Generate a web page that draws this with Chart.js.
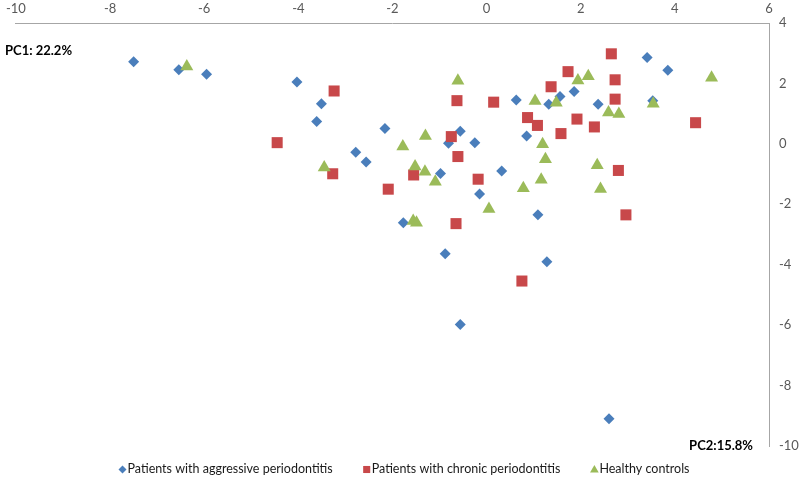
<!DOCTYPE html>
<html>
<head>
<meta charset="utf-8">
<script src="https://cdn.jsdelivr.net/npm/chart.js@4.4.1/dist/chart.umd.min.js"></script>
<style>
  html, body { margin: 0; padding: 0; background: #fff; }
  #wrap { width: 800px; height: 490px; position: relative; }
</style>
</head>
<body>
<div id="wrap"><canvas id="c" width="800" height="490"></canvas></div>
<script>
// Series labels
const seriesNames = ["Patients with aggressive periodontitis", "Patients with chronic periodontitis", "Healthy controls"];
const pc1Label = "PC1: 22.2%";
const pc2Label = "PC2:15.8%";

// Patients with aggressive periodontitis
const aggX = [-7.50,-6.54,-5.95,-4.03,-3.51,-3.61,-2.16,-2.78,-2.56,-0.56,-0.81,-0.25,0.85,-0.98,0.32,-0.15,1.09,-1.77,-0.88,1.28,-0.56,2.60,3.41,3.85,1.86,1.56,0.63,1.32,2.37,3.53];
const aggY = [2.72,2.45,2.30,2.05,1.33,0.74,0.51,-0.28,-0.60,0.42,0.02,0.04,0.26,-0.98,-0.90,-1.66,-2.35,-2.61,-3.64,-3.90,-5.98,-9.10,2.86,2.44,1.73,1.57,1.45,1.31,1.31,1.43];

// Patients with chronic periodontitis
const chrX = [-3.24,-4.45,-3.27,-2.09,2.65,1.73,2.73,1.37,-0.63,0.15,2.73,0.87,1.08,1.92,2.29,1.58,4.44,-0.75,-0.61,2.80,-0.18,-1.55,-0.65,0.75,2.96];
const chrY = [1.75,0.04,-0.99,-1.50,2.98,2.39,2.12,1.89,1.43,1.38,1.48,0.87,0.61,0.82,0.56,0.34,0.70,0.24,-0.42,-0.88,-1.17,-1.03,-2.64,-4.54,-2.35];

// Healthy controls
const hcX = [-6.37,-3.45,-1.78,-0.61,2.16,1.94,4.78,1.03,1.48,3.54,2.59,2.81,-1.30,1.19,1.25,-1.52,-1.31,-1.09,2.35,1.16,0.78,2.42,0.05,-1.56,-1.49];
const hcY = [2.56,-0.78,-0.09,2.09,2.24,2.10,2.19,1.42,1.36,1.33,1.04,0.99,0.26,-0.01,-0.51,-0.75,-0.92,-1.25,-0.71,-1.19,-1.47,-1.49,-2.16,-2.55,-2.61];

// Axis ranges
const xMin = -10, xMax = 6, xStep = 2;
const yMin = -10, yMax = 4, yStep = 2;

const toPts = (xs, ys) => xs.map((x, i) => ({ x: x, y: ys[i] }));

const labelFont = "'Lato', 'Open Sans', sans-serif";

// PC annotations + bottom legend drawn on the canvas
const extras = {
  id: 'extras',
  afterDraw(chart) {
    const ctx = chart.ctx;
    const ys = chart.scales.y;
    const ca = chart.chartArea;
    ctx.save();
    ctx.fillStyle = '#000';
    ctx.font = "bold 13px " + labelFont;
    ctx.textBaseline = 'middle';
    ctx.textAlign = 'left';
    ctx.fillText(pc1Label, 5, 51);
    ctx.textAlign = 'right';
    ctx.fillText(pc2Label, ca.right - 16, ys.getPixelForValue(yMin));

    // legend
    ctx.font = "12.5px " + labelFont;
    const ds = chart.data.datasets;
    const markGap = 9, itemGap = 30;
    const widths = ds.map(d => ctx.measureText(d.label).width);
    const total = widths.reduce((a, b) => a + b, 0) + ds.length * markGap + (ds.length - 1) * itemGap;
    let x = 404 - total / 2;
    const y = 469;
    const legendRadius = { rectRot: 4, rect: 5, triangle: 5 };
    ds.forEach((d, i) => {
      ctx.fillStyle = d.backgroundColor;
      ctx.strokeStyle = d.backgroundColor;
      Chart.helpers.drawPoint(ctx, { pointStyle: d.pointStyle, radius: legendRadius[d.pointStyle], rotation: 0, borderWidth: 0 }, x + 4, y + (d.pointStyle === 'triangle' ? 1 : 0.5));
      ctx.fillStyle = '#1a1a1a';
      ctx.textAlign = 'left';
      ctx.fillText(d.label, x + markGap, y);
      x += markGap + widths[i] + itemGap;
    });
    ctx.restore();
  }
};

new Chart(document.getElementById('c'), {
  type: 'scatter',
  data: {
    datasets: [
      { label: seriesNames[0], data: toPts(aggX, aggY), pointStyle: 'rectRot', pointRadius: 5.5, pointHoverRadius: 5.5,
        backgroundColor: '#4A7EBB', borderColor: '#4A7EBB', borderWidth: 0, order: 3 },
      { label: seriesNames[1], data: toPts(chrX, chrY), pointStyle: 'rect', pointRadius: 7.8, pointHoverRadius: 7.8,
        backgroundColor: '#C8484A', borderColor: '#C8484A', borderWidth: 0, order: 2 },
      { label: seriesNames[2], data: toPts(hcX, hcY), pointStyle: 'triangle', pointRadius: 7.5, pointHoverRadius: 7.5,
        backgroundColor: '#9BBB59', borderColor: '#9BBB59', borderWidth: 0, order: 1 }
    ]
  },
  options: {
    responsive: false,
    animation: false,
    devicePixelRatio: 1,
    layout: { padding: { left: 0, right: 0, top: 0, bottom: 44 } },
    plugins: {
      tooltip: { enabled: false },
      legend: { display: false }
    },
    scales: {
      x: {
        type: 'linear',
        position: 'top',
        min: xMin, max: xMax,
        ticks: { stepSize: xStep, color: '#595959', padding: 6, font: { family: labelFont, size: 13 }, maxRotation: 0 },
        grid: { display: false, drawTicks: false },
        border: { display: true, color: '#A6A6A6', width: 1 },
        afterFit(scale) { scale.height = 23; }
      },
      y: {
        type: 'linear',
        position: 'right',
        min: yMin, max: yMax,
        ticks: { stepSize: yStep, color: '#595959', padding: 10, font: { family: labelFont, size: 13 } },
        grid: { display: false, drawTicks: false },
        border: { display: true, color: '#A6A6A6', width: 1 },
        afterFit(scale) { scale.width = 31; }
      }
    }
  },
  plugins: [extras]
});
</script>
</body>
</html>
